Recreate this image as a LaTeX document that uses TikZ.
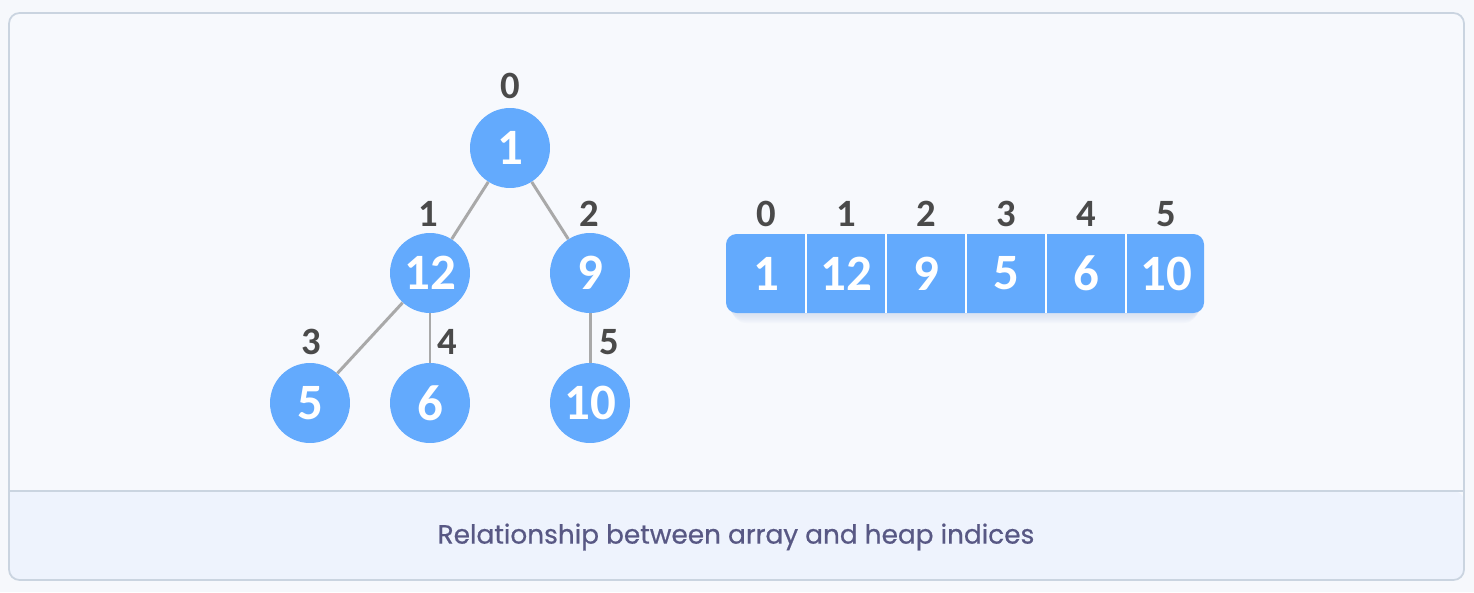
\documentclass[tikz,border=0pt]{standalone}
\usepackage{fontspec}
\setmainfont{Carlito}
\newfontfamily\captionfont{Poppins}[FakeBold=0.6]
\definecolor{pagebg}{HTML}{F6F8FC}
\definecolor{cardbg}{HTML}{F7F9FD}
\definecolor{cardline}{HTML}{CAD4E0}
\definecolor{footbg}{HTML}{EEF3FD}
\definecolor{heapblue}{HTML}{63AAFD}
\definecolor{edgegray}{HTML}{A9A9A9}
\definecolor{idxgray}{HTML}{4A4A4A}
\definecolor{captext}{HTML}{585884}
\definecolor{shadowblue}{HTML}{9DB4E0}
\tikzset{
    heapnode/.style = {circle, fill=heapblue, minimum size=1.6cm, inner sep=0pt,
        text=white, font=\fontsize{29}{29}\selectfont\bfseries},
    idx/.style = {text=idxgray, font=\fontsize{22}{22}\selectfont\bfseries, inner sep=0pt},
    cell/.style = {rectangle, minimum width=1.6cm, minimum height=1.58cm, inner sep=0pt,
        text=white, font=\fontsize{29}{29}\selectfont\bfseries},
    link/.style = {draw=edgegray, line width=1.7pt},
    sep/.style = {draw=white, line width=1.1pt}
}
\begin{document}
\begin{tikzpicture}[x=0.02cm, y=-0.02cm]
    \useasboundingbox (0,0) rectangle (1474,592);
    \fill[pagebg] (0,0) rectangle (1474,592);
    \fill[cardbg] (9,13) [rounded corners=6pt] rectangle (1464,580);
    \fill[footbg, rounded corners=6pt] (9,491) -- (9,580) -- (1464,580) -- (1464,491) [sharp corners] -- cycle;
    \draw[cardline, line width=1pt] (9,491) -- (1464,491);
    \draw[cardline, line width=1pt, rounded corners=6pt] (9,13) rectangle (1464,580);
    \node[text=captext, font=\captionfont\fontsize{15}{15}\selectfont] (caption) at (736,537) {Relationship between array and heap indices};

    \node[heapnode] (n0) at (510,148) {1};
    \node[heapnode] (n1) at (430,273) {12};
    \node[heapnode] (n2) at (590,273) {9};
    \node[heapnode] (n3) at (310,403) {5};
    \node[heapnode] (n4) at (430,403) {6};
    \node[heapnode] (n5) at (590,403) {10};
    \draw[link] (n0) -- (n1);
    \draw[link] (n0) -- (n2);
    \draw[link] (n1) -- (n3);
    \draw[link] (n1) -- (n4);
    \draw[link] (n2) -- (n5);

    \node[idx] (t0) at (510,86) {0};
    \node[idx] (t1) at (428,214) {1};
    \node[idx] (t2) at (589,214) {2};
    \node[idx] (t3) at (311,342) {3};
    \node[idx] (t4) at (447,342) {4};
    \node[idx] (t5) at (609,342) {5};

    \foreach \k in {1,...,6}
        \fill[shadowblue, opacity=0.05, rounded corners=8pt] (726+\k,238+\k) rectangle (1204-\k,314+1.5*\k);
    \fill[heapblue, rounded corners=6pt] (726,234) rectangle (1204,313);
    \foreach \v [count=\i from 0] in {1,12,9,5,6,10} {
        \node[cell] (a\i) at (766+80*\i,273.5) {\v};
        \node[idx] (j\i) at (766+80*\i,214) {\i};
    }
    \foreach \i in {0,...,4} {
        \draw[sep] (a\i.north east) -- (a\i.south east);
    }
\end{tikzpicture}
\end{document}
